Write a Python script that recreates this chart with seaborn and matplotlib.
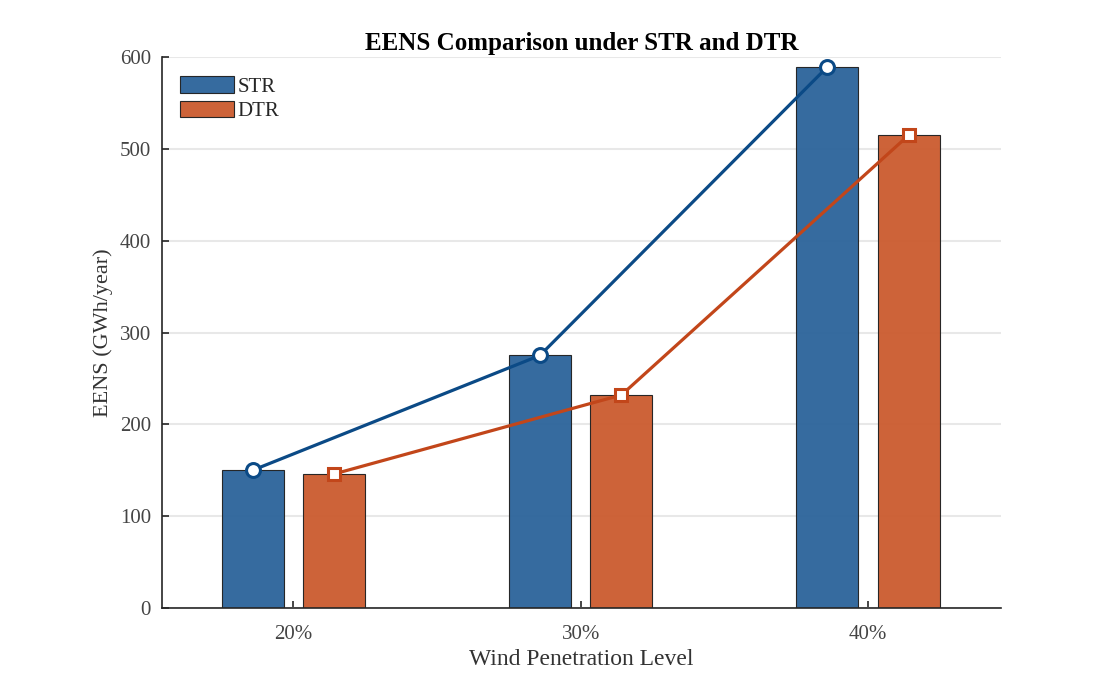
import numpy as np
import pandas as pd
import matplotlib
matplotlib.use("Agg")
import matplotlib.pyplot as plt
import seaborn as sns

# data
levels = ["20%", "30%", "40%"]
str_eens = [150, 275, 589]
dtr_eens = [146, 232, 515]

df = pd.DataFrame({
    "level": levels * 2,
    "eens": str_eens + dtr_eens,
    "case": ["STR"] * 3 + ["DTR"] * 3,
})

sns.set_theme(style="white")
plt.rcParams["font.family"] = ["Liberation Serif", "DejaVu Serif"]

bar_colors = {"STR": "#2f669c", "DTR": "#cc5e32"}
line_colors = {"STR": "#0b4a86", "DTR": "#c2461a"}

fig = plt.figure(figsize=(11.12, 6.78), dpi=100)
ax = fig.add_axes([0.1457, 0.1032, 0.7545, 0.8127])

sns.barplot(data=df, x="level", y="eens", hue="case", palette=bar_colors,
            width=0.568, gap=0.24, edgecolor="#222222", linewidth=0.8,
            saturation=1, alpha=0.97, ax=ax)

# lines through the bar tops
for cont, name, vals, mk, ms in [(ax.containers[0], "STR", str_eens, "o", 10),
                                 (ax.containers[1], "DTR", dtr_eens, "s", 8)]:
    xs = [p.get_x() + p.get_width() / 2 for p in cont]
    ax.plot(xs, vals, color=line_colors[name], lw=2.3, marker=mk, ms=ms,
            mfc="white", mec=line_colors[name], mew=2.2, zorder=5)

ax.set_ylim(0, 600)
ax.set_xlim(-0.457, 2.463)
ax.set_yticks(range(0, 601, 100))
ax.yaxis.grid(True, color="#e8e8e8", lw=1.5)
ax.set_axisbelow(True)
for s in ["top", "right"]:
    ax.spines[s].set_visible(False)
for s in ["left", "bottom"]:
    ax.spines[s].set_color("#262626")
    ax.spines[s].set_linewidth(1.2)
ax.tick_params(direction="in", length=5, width=1.2, colors="#262626",
               labelsize=15, labelcolor="#444444", bottom=True, left=True)
ax.tick_params(axis="x", pad=12)
ax.tick_params(axis="y", pad=8)

ax.set_title("EENS Comparison under STR and DTR", fontsize=18,
             fontweight="bold", color="black", pad=5)
ax.set_xlabel("Wind Penetration Level", fontsize=17, color="#333333", labelpad=4)
ax.set_ylabel("EENS (GWh/year)", fontsize=16, color="#333333", labelpad=5)

ax.legend(loc="upper left", frameon=False, fontsize=15, handlelength=2.6,
          handleheight=0.85, handletextpad=0.15, labelspacing=0.2,
          borderaxespad=0, borderpad=0, bbox_to_anchor=(18 / 839, 1 - 19 / 551))

fig.savefig("out.png", dpi=100, facecolor="white")
